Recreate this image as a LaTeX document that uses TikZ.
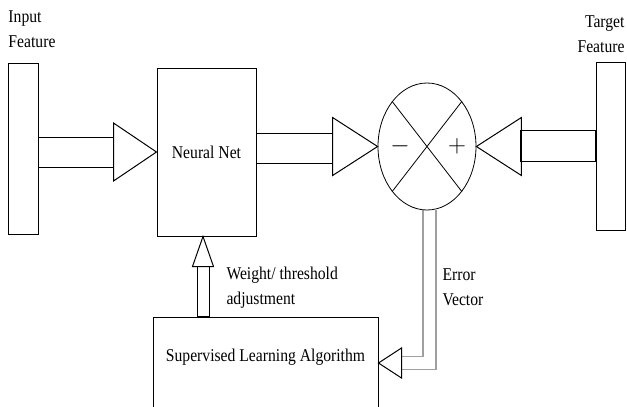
\documentclass[tikz,border=0pt]{standalone}
\usepackage{fontspec}
\setmainfont{Liberation Serif}[FakeStretch=0.87]
\usetikzlibrary{shapes.geometric,positioning,backgrounds}

\begin{document}
\begin{tikzpicture}[x=1pt, y=-1pt, line width=1pt, font=\fontsize{18}{25}\selectfont,
	box/.style={draw, rectangle, inner sep=0pt},
	hollow/.style={draw, line join=miter},
	errline/.style={draw=gray!75, double=white, double distance=11.8pt, line width=1.2pt},
	lbl/.style={inner sep=0pt, align=left}]
	\useasboundingbox (0,0) rectangle (627,407);

	\node 	(inp) 	[box, minimum width=30pt, minimum height=171pt]		at (23,148.5)	{};
	\node 	(nn) 	[box, minimum width=99pt, minimum height=168pt]		at (206.5,152)	{Neural Net};
	\node 	(sum) 	[draw, ellipse, line width=0.8pt, minimum width=98pt, minimum height=127pt]	at (427,146.5)	{};
	\node 	(tgt) 	[box, minimum width=29pt, minimum height=168pt]		at (610.5,146)	{};
	\node 	(sla) 	[box, minimum width=225pt, minimum height=150pt, anchor=north]	at (265.5,317)	{};
	\node 	(slatxt) 	at ([yshift=-40pt]sla.north)	{Supervised Learning Algorithm};

	% summing junction
	\draw [line width=0.8pt] (sum.north west) -- (sum.south east) (sum.north east) -- (sum.south west);
	\node 	(minus) [font=\fontsize{24}{24}\selectfont]	at ([xshift=-27pt]sum.center)	{$-$};
	\node 	(plus) 	[font=\fontsize{24}{24}\selectfont]	at ([xshift=30pt]sum.center)	{$+$};

	% input feature -> neural net
	\draw (inp.east |- nn.west) ++(0,-15) rectangle ++(75,30);
	\draw [hollow] (nn.west) -- ++(-43,-29) -- ++(0,58) -- cycle;

	% neural net -> junction
	\draw (nn.east |- sum.west) ++(0,-13) rectangle ++(76,30);
	\draw [hollow] (sum.west) -- ++(-45,-29) -- ++(0,58) -- cycle;

	% target feature -> junction
	\draw (tgt.west |- sum.east) ++(0,-16) rectangle ++(-75,31);
	\draw [hollow] (sum.east) -- ++(45,-29) -- ++(0,58) -- cycle;

	% error vector
	\coordinate (errtip) at (sla.east |- 0,363);
	\begin{scope}[on background layer]
		\draw [errline] ([xshift=2.5pt]sum.south) |- ([xshift=23pt]errtip);
	\end{scope}
	\draw [hollow] (errtip) -- ++(23,-15) -- ++(0,30) -- cycle;

	% weight adjustment
	\coordinate (wtip) at ([xshift=-3.5pt]nn.south);
	\draw [hollow] (wtip) -- ++(-10.5,30) -- ++(21,0) -- cycle;
	\draw (wtip |- sla.north) ++(-6,0) rectangle ++(12,-51);
	\draw [line width=2pt] (wtip |- sla.north) ++(-6,0) -- ++(12,0);

	% labels
	\node 	(inlbl) 	[lbl, anchor=north west]		at (8,10)	{Input\\Feature};
	\node 	(tgtlbl) 	[lbl, align=right, anchor=north east]	at (625,15)	{Target\\Feature};
	\node 	(wlbl) 	[lbl, anchor=north west]		at (226,266.5)	{Weight/ threshold\\adjustment};
	\node 	(errlbl) 	[lbl, anchor=north west]		at (442,268)	{Error\\Vector};

\end{tikzpicture}
\end{document}
